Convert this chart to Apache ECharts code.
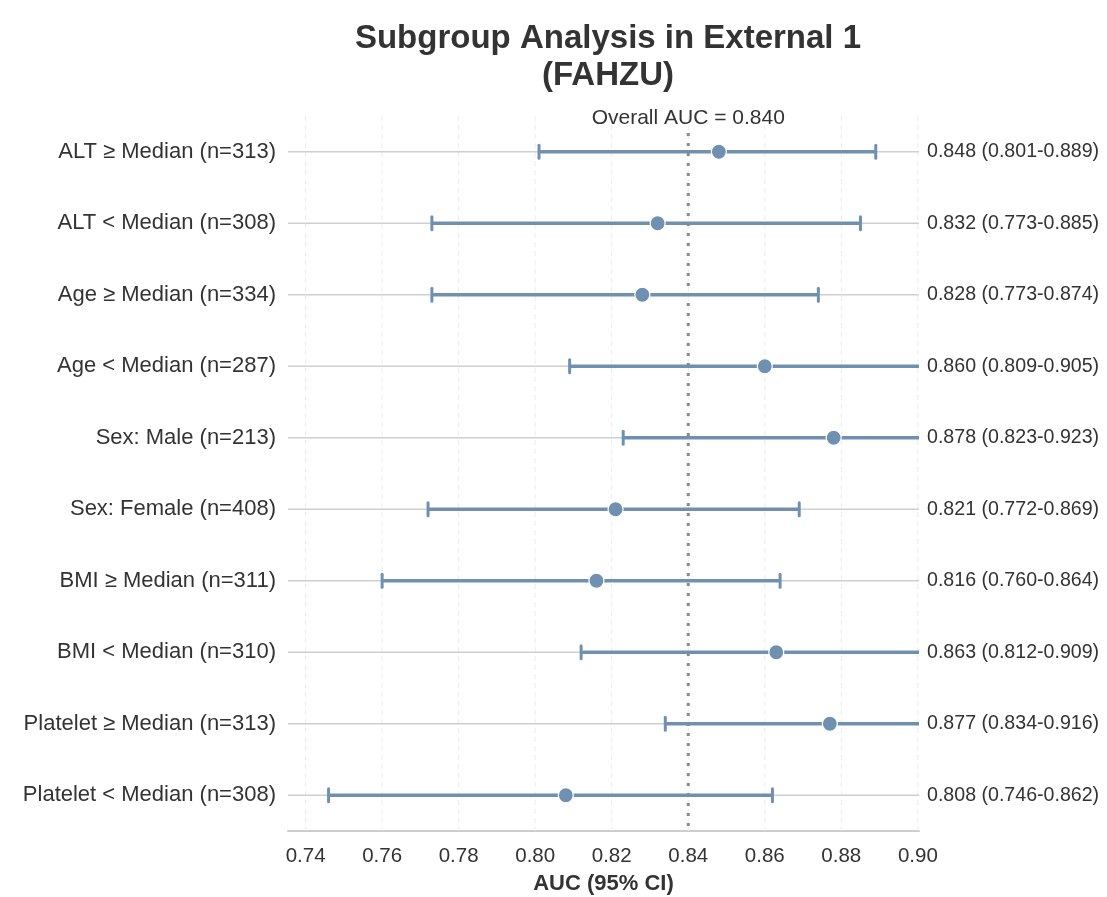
<!DOCTYPE html>
<html>
<head>
<meta charset="utf-8">
<script src="https://cdn.jsdelivr.net/npm/echarts@6/dist/echarts.min.js"></script>
<style>
html,body{margin:0;padding:0;background:#fff;}
#chart{width:1107px;height:897px;}
</style>
</head>
<body>
<div id="chart"></div>
<script>
const categories = [
  'ALT ≥ Median (n=313)',
  'ALT < Median (n=308)',
  'Age ≥ Median (n=334)',
  'Age < Median (n=287)',
  'Sex: Male (n=213)',
  'Sex: Female (n=408)',
  'BMI ≥ Median (n=311)',
  'BMI < Median (n=310)',
  'Platelet ≥ Median (n=313)',
  'Platelet < Median (n=308)'
];
const auc   = [0.848, 0.832, 0.828, 0.860, 0.878, 0.821, 0.816, 0.863, 0.877, 0.808];
const lower = [0.801, 0.773, 0.773, 0.809, 0.823, 0.772, 0.760, 0.812, 0.834, 0.746];
const upper = [0.889, 0.885, 0.874, 0.905, 0.923, 0.869, 0.864, 0.909, 0.916, 0.862];
const overallAUC = 0.840;
const xTicks = [0.74, 0.76, 0.78, 0.80, 0.82, 0.84, 0.86, 0.88, 0.90];

const FONT = '"Liberation Sans", Arial, Helvetica, sans-serif';
const BLUE = '#7090b1';
const TEXT = '#333333';

const rightLabels = auc.map((v, i) =>
  v.toFixed(3) + ' (' + lower[i].toFixed(3) + '-' + upper[i].toFixed(3) + ')');

const rowData = categories.map((c, i) => [auc[i], lower[i], upper[i], i]);

const chart = echarts.init(document.getElementById('chart'));
chart.setOption({
  backgroundColor: '#ffffff',
  animation: false,
  title: {
    text: 'Subgroup Analysis in External 1\n(FAHZU)',
    left: 603,
    top: 15,
    textAlign: 'center',
    textStyle: { fontFamily: FONT, fontSize: 33, fontWeight: 'bold', color: TEXT, lineHeight: 37 }
  },
  grid: { left: 288, right: 188, top: 116, bottom: 66, containLabel: false, outerBoundsMode: 'none' },
  xAxis: {
    type: 'value',
    min: 0.7354,
    max: 0.9003,
    name: 'AUC (95% CI)',
    nameLocation: 'middle',
    nameGap: 42,
    nameTextStyle: { fontFamily: FONT, fontSize: 22, fontWeight: 'bold', color: TEXT },
    axisLine: { show: true, lineStyle: { color: '#cccccc', width: 2 } },
    axisTick: { show: false },
    splitLine: { show: false },
    axisLabel: {
      customValues: xTicks,
      margin: 15,
      fontFamily: FONT, fontSize: 20.5, color: TEXT,
      formatter: v => v.toFixed(2)
    }
  },
  yAxis: [{
    type: 'category',
    data: categories,
    inverse: true,
    axisLine: { show: false },
    axisTick: { show: false },
    splitLine: { show: false },
    axisLabel: { margin: 12, fontFamily: FONT, fontSize: 22, color: TEXT }
  }, {
    type: 'category',
    data: rightLabels,
    inverse: true,
    position: 'right',
    axisLine: { show: false },
    axisTick: { show: false },
    splitLine: { show: false },
    axisLabel: { margin: 8, fontFamily: FONT, fontSize: 19.6, color: TEXT }
  }],
  series: [
    {
      type: 'custom',
      silent: true,
      z: 1,
      data: xTicks.map(v => [v]),
      renderItem: function (params, api) {
        const cs = params.coordSys;
        const x = api.coord([api.value(0), 0])[0];
        return {
          type: 'line',
          shape: { x1: x, y1: cs.y, x2: x, y2: cs.y + cs.height },
          style: { stroke: '#ebebeb', lineWidth: 1, lineDash: [5, 4] }
        };
      }
    },
    {
      type: 'custom',
      silent: true,
      z: 2,
      data: categories.map((c, i) => [i]),
      renderItem: function (params, api) {
        const cs = params.coordSys;
        const y = api.coord([0.8, api.value(0)])[1];
        return {
          type: 'line',
          shape: { x1: cs.x, y1: y, x2: cs.x + cs.width, y2: y },
          style: { stroke: '#cfcfcf', lineWidth: 1.5 }
        };
      }
    },
    {
      type: 'custom',
      silent: true,
      z: 3,
      data: [[overallAUC]],
      renderItem: function (params, api) {
        const cs = params.coordSys;
        const x = api.coord([api.value(0), 0])[0];
        return {
          type: 'group',
          children: [{
            type: 'line',
            shape: { x1: x, y1: cs.y + 17, x2: x, y2: cs.y + cs.height },
            style: { stroke: '#8a8a8a', lineWidth: 3, lineDash: [3, 7] }
          }, {
            type: 'text',
            style: {
              x: x, y: cs.y + 2,
              text: 'Overall AUC = ' + overallAUC.toFixed(3),
              fill: TEXT, font: '21px ' + FONT,
              align: 'center', verticalAlign: 'middle'
            }
          }]
        };
      }
    },
    {
      type: 'custom',
      z: 5,
      clip: true,
      data: rowData,
      renderItem: function (params, api) {
        const idx = api.value(3);
        const pm = api.coord([api.value(0), idx]);
        const pl = api.coord([api.value(1), idx]);
        const pu = api.coord([api.value(2), idx]);
        const y = pm[1];
        const cap = 6.5;
        const children = [
          { type: 'line', shape: { x1: pl[0], y1: y, x2: pu[0], y2: y },
            style: { stroke: BLUE, lineWidth: 3.5 } },
          { type: 'line', shape: { x1: pl[0], y1: y - cap, x2: pl[0], y2: y + cap },
            style: { stroke: BLUE, lineWidth: 3, lineCap: 'round' } },
          { type: 'line', shape: { x1: pu[0], y1: y - cap, x2: pu[0], y2: y + cap },
            style: { stroke: BLUE, lineWidth: 3, lineCap: 'round' } },
          { type: 'circle', shape: { cx: pm[0], cy: y, r: 7.5 },
            style: { fill: BLUE, stroke: '#ffffff', lineWidth: 1.2 } }
        ];
        return { type: 'group', children: children };
      }
    }
  ]
});
</script>
</body>
</html>
